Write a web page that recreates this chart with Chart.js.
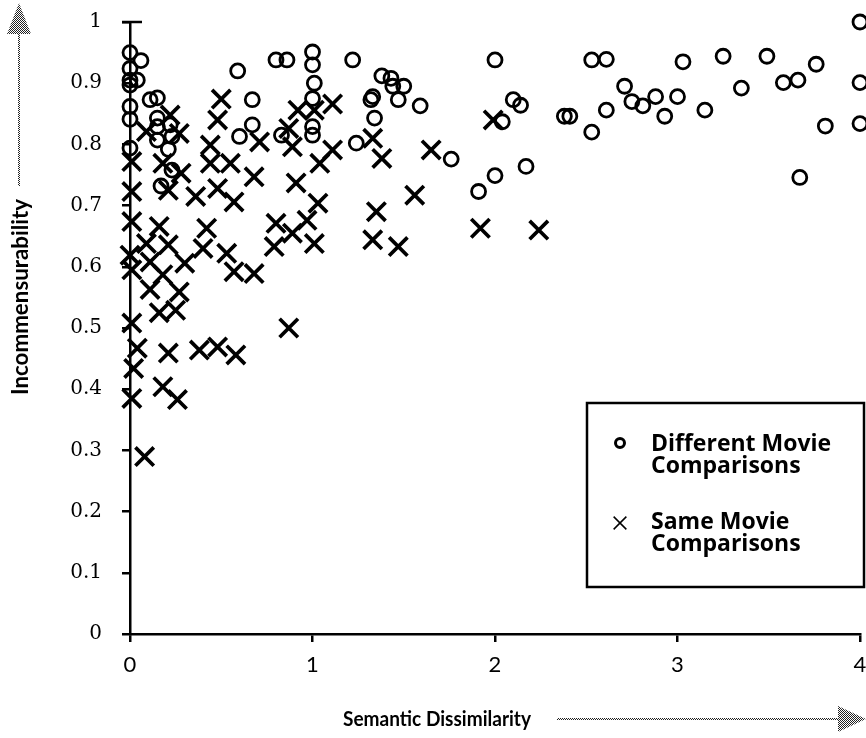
<!DOCTYPE html>
<html>
<head>
<meta charset="utf-8">
<script src="https://cdn.jsdelivr.net/npm/chart.js@4/dist/chart.umd.min.js"></script>
<style>
  html, body { margin: 0; padding: 0; background: #fff; }
  #wrap { width: 866px; height: 738px; }
</style>
</head>
<body>
<div id="wrap"><canvas id="c" width="866" height="738"></canvas></div>
<script>
// Different-movie pairs: semantic dissimilarity (x) vs incommensurability (y)
const differentX = [
  0.00, 0.06, 0.00, 0.00, 0.04, 0.00, 0.00, 0.00, 0.00,
  0.11, 0.15, 0.15, 0.15, 0.15, 0.22, 0.23, 0.21, 0.23, 0.17,
  0.59, 0.67, 0.67, 0.60, 0.80, 0.86, 0.83,
  1.00, 1.00, 1.01, 1.00, 1.00, 1.00,
  1.22, 1.38, 1.43, 1.44, 1.50, 1.47, 1.33, 1.32, 1.59, 1.34, 1.24, 1.76,
  1.91, 2.00, 2.17, 2.00, 2.10, 2.14, 2.04, 2.38, 2.41,
  2.53, 2.61, 2.53, 2.61, 2.71, 2.75, 2.81, 2.88, 2.93, 3.00, 3.03, 3.15,
  3.25, 3.35, 3.49, 3.58, 3.66, 3.76, 3.81, 3.67, 4.00, 4.00, 4.00
];
const differentY = [
  0.950, 0.937, 0.924, 0.905, 0.905, 0.897, 0.862, 0.841, 0.794,
  0.873, 0.876, 0.843, 0.829, 0.807, 0.832, 0.813, 0.792, 0.758, 0.732,
  0.920, 0.873, 0.832, 0.813, 0.938, 0.938, 0.815,
  0.951, 0.930, 0.900, 0.875, 0.829, 0.815,
  0.938, 0.912, 0.908, 0.895, 0.895, 0.873, 0.878, 0.873, 0.863, 0.843, 0.802, 0.776,
  0.723, 0.749, 0.764, 0.938, 0.873, 0.864, 0.837, 0.846, 0.846,
  0.938, 0.939, 0.820, 0.856, 0.895, 0.870, 0.863, 0.878, 0.846, 0.878, 0.935, 0.856,
  0.944, 0.892, 0.944, 0.901, 0.905, 0.931, 0.830, 0.746, 1.000, 0.901, 0.834
];

// Same-movie pairs
const sameX = [
  0.50, 0.48, 1.11, 1.01, 0.92, 0.22, 0.09, 0.27, 0.44, 0.71, 0.87, 0.89,
  0.01, 0.44, 0.55, 0.18, 0.28, 0.68, 1.04, 1.11, 0.91,
  0.01, 0.21, 0.36, 0.48, 0.57, 1.03,
  0.01, 0.16, 0.42, 0.80, 0.97, 0.89,
  0.09, 0.21, 0.40, 0.53, 0.79, 1.01,
  0.00, 0.11, 0.30, 0.57, 0.68, 0.18, 0.01,
  0.11, 0.27, 0.16, 0.25, 0.01, 0.87,
  0.04, 0.21, 0.38, 0.48, 0.58, 0.02, 0.01, 0.18, 0.26, 0.08,
  1.33, 1.38, 1.65, 1.56, 1.35, 1.33, 1.47, 1.92, 2.24, 1.99
];
const sameY = [
  0.874, 0.840, 0.866, 0.856, 0.856, 0.848, 0.821, 0.818, 0.799, 0.804, 0.826, 0.796,
  0.772, 0.769, 0.769, 0.769, 0.753, 0.747, 0.769, 0.791, 0.737,
  0.723, 0.725, 0.715, 0.728, 0.706, 0.704,
  0.674, 0.666, 0.663, 0.671, 0.676, 0.655,
  0.638, 0.636, 0.630, 0.622, 0.633, 0.638,
  0.619, 0.608, 0.606, 0.592, 0.589, 0.587, 0.595,
  0.563, 0.559, 0.525, 0.529, 0.508, 0.500,
  0.467, 0.459, 0.464, 0.469, 0.456, 0.434, 0.385, 0.404, 0.383, 0.290,
  0.810, 0.777, 0.791, 0.717, 0.690, 0.644, 0.633, 0.663, 0.660, 0.840
];

const seriesNames = ['Different Movie Comparisons', 'Same Movie Comparisons'];
const xTickLabels = ['0', '1', '2', '3', '4'];
const yTickLabels = ['0', '0.1', '0.2', '0.3', '0.4', '0.5', '0.6', '0.7', '0.8', '0.9', '1'];
const xTitle = 'Semantic Dissimilarity';
const yTitle = 'Incommensurability';

const toPoints = (xs, ys) => xs.map((x, i) => ({ x: x, y: ys[i] }));

// split "Different Movie Comparisons" into "Different Movie" / "Comparisons"
const legendLines = name => {
  const cut = name.lastIndexOf(' ');
  return [name.slice(0, cut), name.slice(cut + 1)];
};

// Grey stippled fill used for the axis arrows
function stipple() {
  const p = document.createElement('canvas');
  p.width = 2; p.height = 2;
  const g = p.getContext('2d');
  g.fillStyle = '#fff'; g.fillRect(0, 0, 2, 2);
  g.fillStyle = '#222'; g.fillRect(0, 0, 1, 1); g.fillRect(1, 1, 1, 1);
  return p;
}

const decorations = {
  id: 'decorations',
  afterDraw(chart) {
    const ctx = chart.ctx;
    const xs = chart.scales.x, ys = chart.scales.y;
    const pat = ctx.createPattern(stipple(), 'repeat');
    ctx.save();

    // cap at the top of the value axis
    const yTop = ys.getPixelForValue(1);
    ctx.strokeStyle = '#000';
    ctx.lineWidth = 2.5;
    ctx.beginPath();
    ctx.moveTo(xs.left - 8, yTop);
    ctx.lineTo(xs.left + 12, yTop);
    ctx.stroke();

    // x-axis title with arrow pointing right
    ctx.fillStyle = '#000';
    ctx.font = 'bold 20px Lato';
    ctx.textAlign = 'center';
    ctx.textBaseline = 'middle';
    const tw = ctx.measureText(xTitle).width;
    ctx.save();
    ctx.translate(437, 720);
    ctx.scale(188 / tw, 1);
    ctx.fillText(xTitle, 0, 0);
    ctx.restore();

    ctx.strokeStyle = pat;
    ctx.lineWidth = 2;
    ctx.beginPath();
    ctx.moveTo(557, 719);
    ctx.lineTo(840, 719);
    ctx.stroke();
    ctx.fillStyle = pat;
    ctx.beginPath();
    ctx.moveTo(838, 706);
    ctx.lineTo(866, 719);
    ctx.lineTo(838, 732);
    ctx.closePath();
    ctx.fill();

    // y-axis title with arrow pointing up
    ctx.save();
    ctx.translate(21, 297);
    ctx.rotate(-Math.PI / 2);
    ctx.fillStyle = '#000';
    ctx.font = 'bold 22px Lato';
    const w = ctx.measureText(yTitle).width;
    ctx.scale(196 / w, 1);
    ctx.textAlign = 'center';
    ctx.textBaseline = 'middle';
    ctx.fillText(yTitle, 0, 0);
    ctx.restore();

    ctx.strokeStyle = pat;
    ctx.lineWidth = 2;
    ctx.beginPath();
    ctx.moveTo(19, 186);
    ctx.lineTo(19, 30);
    ctx.stroke();
    ctx.fillStyle = pat;
    ctx.beginPath();
    ctx.moveTo(19, 3);
    ctx.lineTo(31, 34);
    ctx.lineTo(7, 34);
    ctx.closePath();
    ctx.fill();

    // legend box
    ctx.strokeStyle = '#000';
    ctx.lineWidth = 2.5;
    ctx.fillStyle = '#fff';
    ctx.fillRect(587, 403, 277, 184);
    ctx.strokeRect(587, 403, 277, 184);

    const entries = [
      { ds: chart.data.datasets[0], y: 443, base: 451, r: 4.5, bw: 3 },
      { ds: chart.data.datasets[1], y: 523, base: 529, r: 9, bw: 1.5 }
    ];
    entries.forEach(e => {
      const lines = legendLines(e.ds.label);
      ctx.strokeStyle = '#000';
      ctx.fillStyle = 'rgba(0,0,0,0)';
      ctx.lineWidth = e.bw;
      Chart.helpers.drawPoint(ctx, { pointStyle: e.ds.pointStyle, radius: e.r, borderWidth: e.bw, rotation: 0 }, 620, e.y);
      ctx.fillStyle = '#000';
      ctx.font = 'bold 23px "Open Sans"';
      ctx.textAlign = 'left';
      ctx.textBaseline = 'alphabetic';
      lines.forEach((t, k) => ctx.fillText(t, 651, e.base + k * 22));
    });

    ctx.restore();
  }
};

new Chart(document.getElementById('c'), {
  type: 'scatter',
  data: {
    datasets: [
      {
        label: seriesNames[0],
        data: toPoints(differentX, differentY),
        pointStyle: 'circle',
        pointRadius: 7,
        pointBorderWidth: 2.8,
        borderColor: '#000',
        backgroundColor: 'rgba(0,0,0,0)',
        clip: false
      },
      {
        label: seriesNames[1],
        data: toPoints(sameX, sameY),
        pointStyle: 'crossRot',
        pointRadius: 13,
        pointBorderWidth: 3.7,
        borderColor: '#000',
        backgroundColor: 'rgba(0,0,0,0)',
        clip: false
      }
    ]
  },
  options: {
    responsive: false,
    animation: false,
    devicePixelRatio: 1,
    layout: { autoPadding: false, padding: { top: 22, right: 6, left: 0, bottom: 0 } },
    plugins: { legend: { display: false }, tooltip: { enabled: false } },
    scales: {
      x: {
        type: 'linear',
        min: 0, max: 4,
        afterFit: s => { s.height = 104; s.paddingLeft = 0; s.paddingRight = 0; },
        ticks: {
          stepSize: 1,
          padding: 10,
          color: '#000',
          font: { family: 'Lato', size: 22 },
          callback: (v, i) => xTickLabels[i]
        },
        grid: { drawOnChartArea: false, drawTicks: true, tickLength: 8, color: '#000', lineWidth: 2.5 },
        border: { display: true, color: '#000', width: 2.5 }
      },
      y: {
        type: 'linear',
        min: 0, max: 1,
        afterFit: s => { s.width = 130; s.paddingTop = 0; s.paddingBottom = 0; },
        ticks: {
          stepSize: 0.1,
          padding: 20,
          color: '#000',
          font: { family: 'DejaVu Serif', size: 20 },
          callback: (v, i) => yTickLabels[i]
        },
        grid: { drawOnChartArea: false, drawTicks: true, tickLength: 8, color: '#000', lineWidth: 2.5 },
        border: { display: true, color: '#000', width: 2.5 }
      }
    }
  },
  plugins: [decorations]
});
</script>
</body>
</html>
